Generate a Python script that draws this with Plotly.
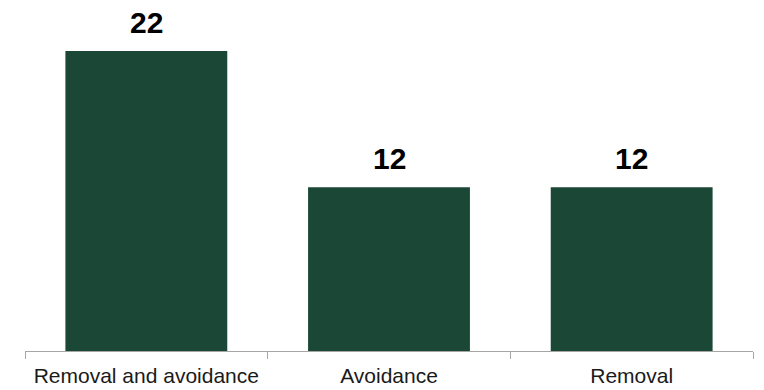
import plotly.graph_objects as go

categories = ["Removal and avoidance", "Avoidance", "Removal"]
values = [22, 12, 12]
bar_color = "#1b4736"

fig = go.Figure()
fig.add_trace(go.Bar(x=categories, y=values, marker_color=bar_color, marker_line_width=0))

for c, v in zip(categories, values):
    fig.add_annotation(x=c, y=v, text=f"<b>{v}</b>", showarrow=False, yanchor="bottom",
                       yshift=10, font=dict(family="Liberation Sans, Arial", size=30, color="#000000"))

fig.update_layout(
    width=764, height=390,
    margin=dict(l=25, r=11, t=10, b=39),
    paper_bgcolor="white", plot_bgcolor="white",
    bargap=0.333,
    showlegend=False,
    xaxis=dict(showline=True, linecolor="#a6a6a6", linewidth=1, ticks="outside",
               tickson="boundaries", ticklen=7, tickcolor="#a6a6a6",
               ticklabelstandoff=6, automargin=False,
               tickfont=dict(family="Liberation Sans, Arial", size=21, color="#1a1a1a"),
               showgrid=False),
    yaxis=dict(range=[0, 25], visible=False, showgrid=False, automargin=False),
)
fig.write_html("out.html")
